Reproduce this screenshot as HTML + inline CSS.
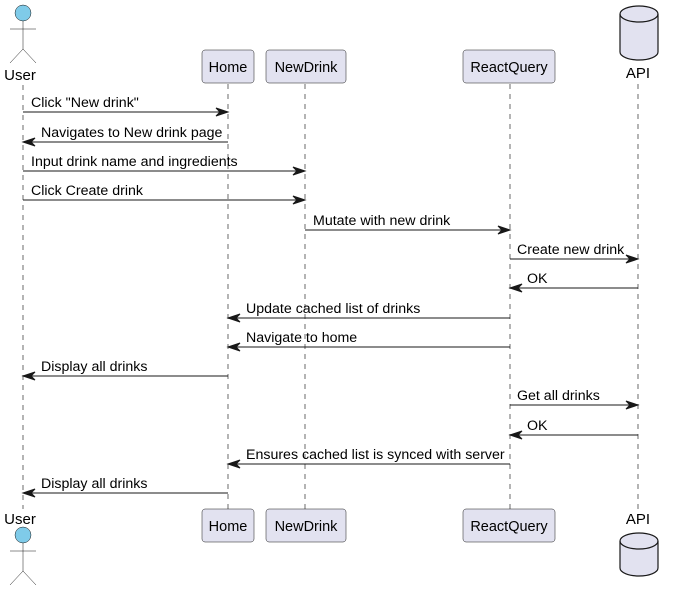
<!DOCTYPE html>
<html><head><meta charset="utf-8"><style>
html,body{margin:0;padding:0;background:#fff;}
svg{display:block;font-family:"Liberation Sans",sans-serif;}
</style></head><body>
<svg width="673" height="591" viewBox="0 0 673 591" xmlns="http://www.w3.org/2000/svg">
<g stroke="#181818" stroke-width="0.8" stroke-dasharray="5,5" fill="none" opacity="0.8">
<line x1="23" y1="85" x2="23" y2="509"/>
<line x1="228" y1="84" x2="228" y2="509"/>
<line x1="305" y1="84" x2="305" y2="509"/>
<line x1="510" y1="84" x2="510" y2="509"/>
<line x1="638" y1="84" x2="638" y2="509"/>
</g>
<g stroke="#181818" stroke-width="0.5" fill="none">
<circle cx="23" cy="13" r="8" fill="#7fcbe9" stroke="#181818"/>
<line x1="23" y1="21" x2="23" y2="49"/><line x1="10" y1="29" x2="36" y2="29"/>
<line x1="23" y1="49" x2="10" y2="63"/><line x1="23" y1="49" x2="36" y2="63"/>
<circle cx="23" cy="535" r="8" fill="#7fcbe9" stroke="#181818"/>
<line x1="23" y1="543" x2="23" y2="571"/><line x1="10" y1="551" x2="36" y2="551"/>
<line x1="23" y1="571" x2="10" y2="585"/><line x1="23" y1="571" x2="36" y2="585"/>
</g>
<g font-size="15" fill="#000" text-anchor="middle">
<text x="20" y="80">User</text><text x="20" y="524">User</text>
<text x="638" y="78">API</text><text x="638" y="524">API</text>
</g>
<g fill="#e2e2f0" stroke="#181818" stroke-width="0.5">
<rect x="202" y="50" width="52" height="33" rx="3"/>
<rect x="266" y="50" width="80" height="33" rx="3"/>
<rect x="463" y="50" width="92" height="33" rx="3"/>
<rect x="202" y="509" width="52" height="33" rx="3"/>
<rect x="266" y="509" width="80" height="33" rx="3"/>
<rect x="463" y="509" width="92" height="33" rx="3"/>
</g>
<g font-size="14.5" fill="#000" text-anchor="middle">
<text x="228" y="72">Home</text><text x="306" y="72">NewDrink</text><text x="509" y="72">ReactQuery</text>
<text x="228" y="531">Home</text><text x="306" y="531">NewDrink</text><text x="509" y="531">ReactQuery</text>
</g>
<g fill="#e2e2f0" stroke="#181818" stroke-width="1.2">
<path d="M620,14 A19,8 0 0 1 658,14 L658,52 A19,8 0 0 1 620,52 Z"/>
<path d="M620,14 A19,8 0 0 0 658,14" fill="none"/>
<path d="M620,541 A19,8 0 0 1 658,541 L658,568 A19,8 0 0 1 620,568 Z"/>
<path d="M620,541 A19,8 0 0 0 658,541" fill="none"/>
</g>
<g stroke="#181818" stroke-width="1" fill="#181818">
<line x1="23" y1="112" x2="226" y2="112"/><polygon points="228,112 216,108 220,112 216,116"/>
<line x1="25" y1="142" x2="228" y2="142"/><polygon points="23,142 35,138 31,142 35,146"/>
<line x1="23" y1="171" x2="303" y2="171"/><polygon points="305,171 293,167 297,171 293,175"/>
<line x1="23" y1="200" x2="303" y2="200"/><polygon points="305,200 293,196 297,200 293,204"/>
<line x1="305" y1="230" x2="508" y2="230"/><polygon points="510,230 498,226 502,230 498,234"/>
<line x1="510" y1="259" x2="636" y2="259"/><polygon points="638,259 626,255 630,259 626,263"/>
<line x1="512" y1="288" x2="638" y2="288"/><polygon points="510,288 522,284 518,288 522,292"/>
<line x1="230" y1="318" x2="510" y2="318"/><polygon points="228,318 240,314 236,318 240,322"/>
<line x1="230" y1="347" x2="510" y2="347"/><polygon points="228,347 240,343 236,347 240,351"/>
<line x1="25" y1="376" x2="228" y2="376"/><polygon points="23,376 35,372 31,376 35,380"/>
<line x1="510" y1="405" x2="636" y2="405"/><polygon points="638,405 626,401 630,405 626,409"/>
<line x1="512" y1="435" x2="638" y2="435"/><polygon points="510,435 522,431 518,435 522,439"/>
<line x1="230" y1="464" x2="510" y2="464"/><polygon points="228,464 240,460 236,464 240,468"/>
<line x1="25" y1="493" x2="228" y2="493"/><polygon points="23,493 35,489 31,493 35,497"/>
</g>
<g font-size="14.2" fill="#000">
<text x="31" y="107">Click "New drink"</text>
<text x="41" y="137">Navigates to New drink page</text>
<text x="31" y="166">Input drink name and ingredients</text>
<text x="31" y="195">Click Create drink</text>
<text x="313" y="225">Mutate with new drink</text>
<text x="517" y="254">Create new drink</text>
<text x="527" y="283">OK</text>
<text x="246" y="313">Update cached list of drinks</text>
<text x="246" y="342">Navigate to home</text>
<text x="41" y="371">Display all drinks</text>
<text x="517" y="400">Get all drinks</text>
<text x="527" y="430">OK</text>
<text x="246" y="459">Ensures cached list is synced with server</text>
<text x="41" y="488">Display all drinks</text>
</g>
</svg>
</body></html>
